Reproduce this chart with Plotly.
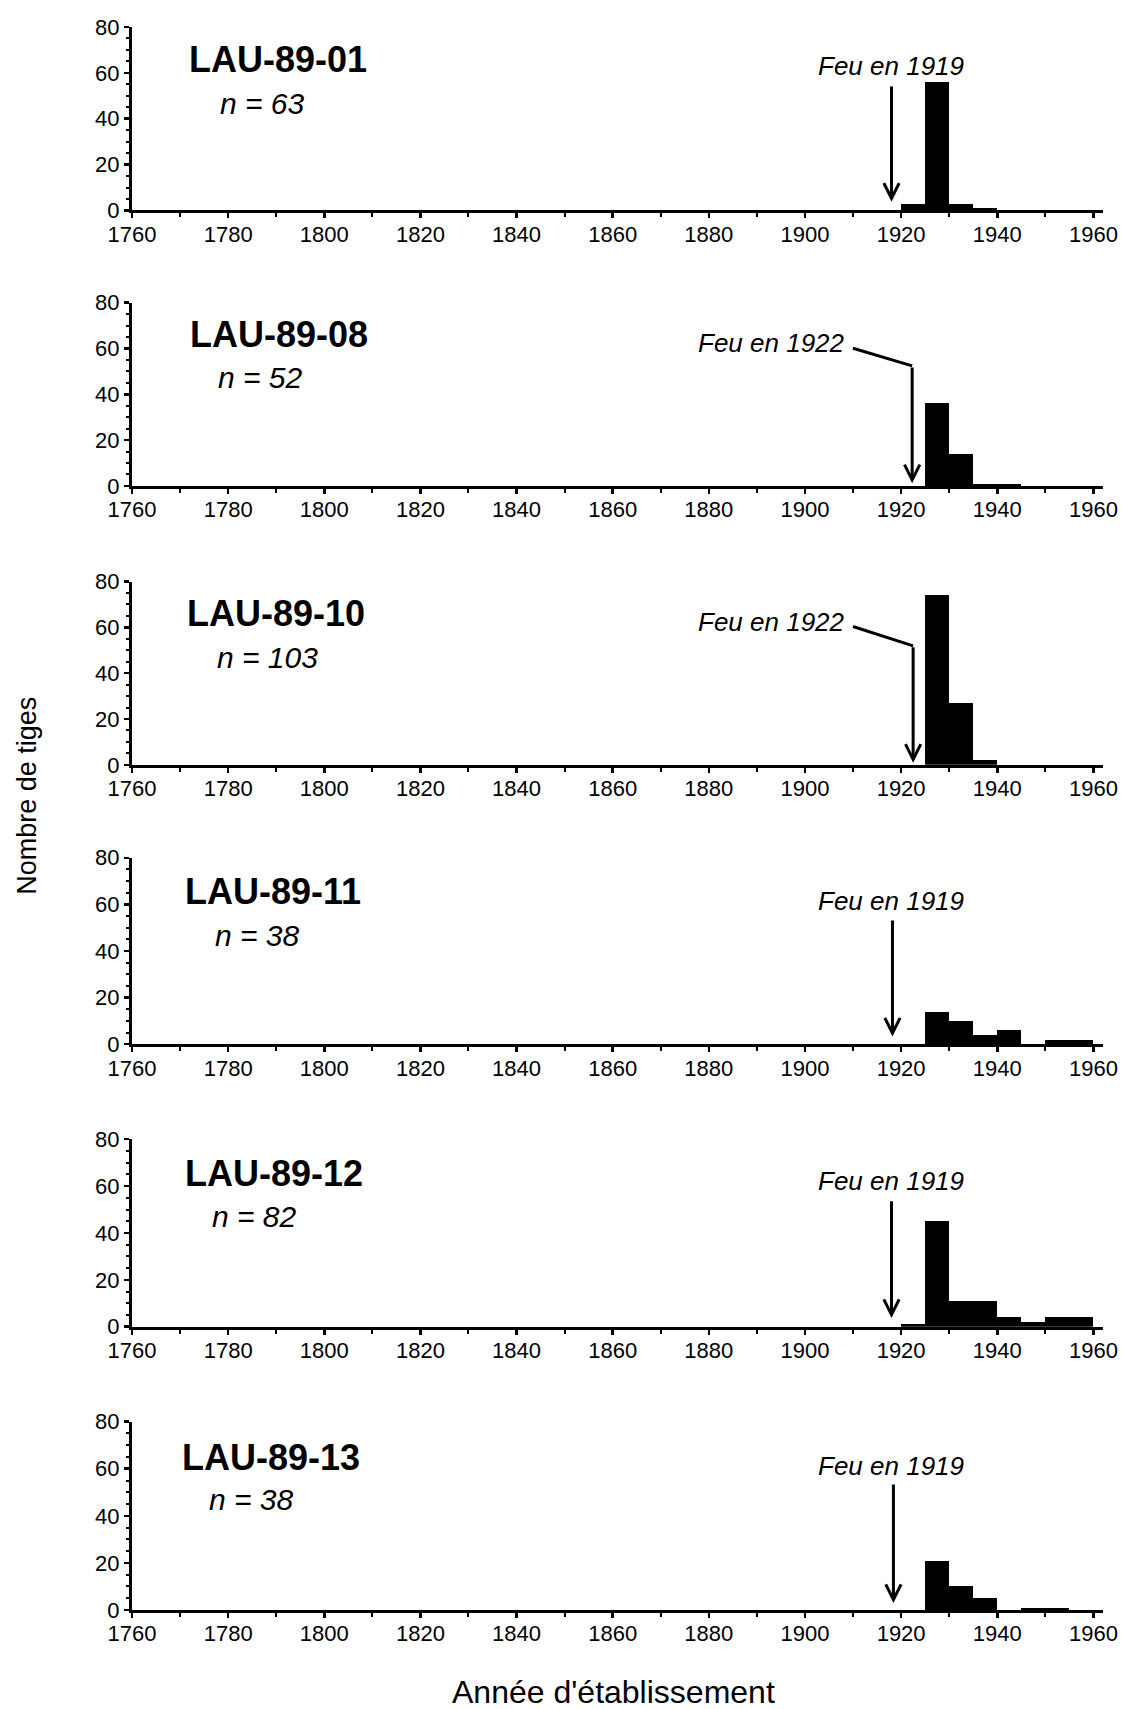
import plotly.graph_objects as go

W, H = 1123, 1709

# ---------------- data ----------------
site_names = ["LAU-89-01", "LAU-89-08", "LAU-89-10", "LAU-89-11", "LAU-89-12", "LAU-89-13"]
site_n = [63, 52, 103, 38, 82, 38]
fire_years = [1919, 1922, 1922, 1919, 1919, 1919]
bin_width = 5

bins_01 = [1920, 1925, 1930, 1935]
counts_01 = [3, 56, 3, 1]
bins_08 = [1925, 1930, 1935, 1940]
counts_08 = [36, 14, 1, 1]
bins_10 = [1925, 1930, 1935]
counts_10 = [74, 27, 2]
bins_11 = [1925, 1930, 1935, 1940, 1945, 1950, 1955]
counts_11 = [14, 10, 4, 6, 0, 2, 2]
bins_12 = [1920, 1925, 1930, 1935, 1940, 1945, 1950, 1955]
counts_12 = [1, 45, 11, 11, 4, 2, 4, 4]
bins_13 = [1925, 1930, 1935, 1940, 1945, 1950]
counts_13 = [21, 10, 5, 0, 1, 1]

all_bins = [bins_01, bins_08, bins_10, bins_11, bins_12, bins_13]
all_counts = [counts_01, counts_08, counts_10, counts_11, counts_12, counts_13]

x_ticks = list(range(1760, 1961, 20))
x_minor = list(range(1770, 1961, 20))
y_ticks = [0, 20, 40, 60, 80]

x_title = "Année d'établissement"
y_title = "Nombre de tiges"

# ---------------- layout geometry (pixels) ----------------
x_left_px, x_right_px = 132, 1103
x_range = [1760, 1962]
panel_top = [27, 302.7, 581.7, 858, 1139.5, 1422]
panel_zero = [210.5, 486, 765, 1044.5, 1327, 1610.4]
title_pos = [(187, 60), (187.5, 334.7), (185, 614), (183, 892), (183, 1174), (180, 1457.7)]
n_pos = [(218, 103.6), (216, 378), (215, 657.5), (212.6, 935.5), (210, 1217), (207, 1500)]
arrow_x = [1918.0, 1922.3, 1922.5, 1918.2, 1918.0, 1918.4]
label_y_px = [66.5, 343.3, 621.7, 901.7, 1181.7, 1466.7]
tail_y_px = [85, 366, 646, 919.3, 1200, 1483.3]
tip_y_px = [201.7, 483.3, 763.0, 1036.7, 1318.3, 1603.3]

PLOT_T = panel_top[0]
PLOT_B = panel_zero[-1]
MARGIN = dict(l=x_left_px, r=W - x_right_px, t=PLOT_T, b=H - PLOT_B)

FONT = "Liberation Sans, Arial, Helvetica, sans-serif"


def fx(p):
    return (p - x_left_px) / (x_right_px - x_left_px)


def fy(p):
    return (PLOT_B - p) / (PLOT_B - PLOT_T)


def data_to_px(xv):
    return x_left_px + (xv - x_range[0]) * (x_right_px - x_left_px) / (x_range[1] - x_range[0])


fig = go.Figure()
annotations = []
shapes = []
layout = {}

for i in range(6):
    k = "" if i == 0 else str(i + 1)
    fig.add_trace(go.Bar(
        x=all_bins[i], y=all_counts[i], width=bin_width, offset=0,
        marker=dict(color="black", line=dict(width=0)),
        xaxis="x" + k, yaxis="y" + k, showlegend=False, hoverinfo="x+y",
    ))
    layout["xaxis" + k] = dict(
        domain=[0, 1], range=x_range, anchor="y" + k, automargin=False,
        tickvals=x_ticks, ticks="outside", ticklen=5, tickwidth=2.5, tickcolor="black",
        minor=dict(tickvals=x_minor, ticks="outside", ticklen=4, tickwidth=2, tickcolor="black"),
        showline=True, linewidth=3, linecolor="black", showgrid=False, zeroline=False,
        tickfont=dict(family=FONT, size=22, color="black"), fixedrange=True,
        ticklabelstandoff=-3,
    )
    layout["yaxis" + k] = dict(
        domain=[fy(panel_zero[i]), fy(panel_top[i])], range=[0, 80], anchor="x" + k,
        automargin=False,
        tickvals=y_ticks, ticks="outside", ticklen=5, tickwidth=2.5, tickcolor="black",
        minor=dict(dtick=5, ticks="outside", ticklen=3, tickwidth=2, tickcolor="black"),
        showline=True, linewidth=3, linecolor="black", showgrid=False, zeroline=False,
        tickfont=dict(family=FONT, size=22, color="black"), fixedrange=True,
    )

    # panel title and n
    annotations.append(dict(
        text="<b>%s</b>" % site_names[i], xref="paper", yref="paper",
        x=fx(title_pos[i][0]), y=fy(title_pos[i][1]), xanchor="left", yanchor="middle",
        showarrow=False, font=dict(family=FONT, size=36, color="black"),
    ))
    annotations.append(dict(
        text="<i>n = %d</i>" % site_n[i], xref="paper", yref="paper",
        x=fx(n_pos[i][0]), y=fy(n_pos[i][1]), xanchor="left", yanchor="middle",
        showarrow=False, font=dict(family=FONT, size=30, color="black"),
    ))

    # fire arrow
    label = "<i>Feu en %d</i>" % fire_years[i]
    ax_px = data_to_px(arrow_x[i])
    annotations.append(dict(
        text="", xref="x" + k, yref="paper", x=arrow_x[i], y=fy(tip_y_px[i]),
        showarrow=True, arrowhead=5, arrowsize=1, arrowwidth=3, arrowcolor="black",
        axref="pixel", ayref="pixel", ax=0, ay=-(tip_y_px[i] - tail_y_px[i]), standoff=0,
    ))
    if fire_years[i] == 1922:
        annotations.append(dict(
            text=label, xref="paper", yref="paper", x=fx(847), y=fy(label_y_px[i]),
            xanchor="right", yanchor="middle", showarrow=False,
            font=dict(family=FONT, size=26, color="black"),
        ))
        shapes.append(dict(
            type="line", xref="paper", yref="paper",
            x0=fx(853), y0=fy(label_y_px[i] + 5), x1=fx(ax_px), y1=fy(tail_y_px[i]),
            line=dict(color="black", width=3),
        ))
    else:
        annotations.append(dict(
            text=label, xref="paper", yref="paper", x=fx(891), y=fy(label_y_px[i]),
            xanchor="center", yanchor="middle", showarrow=False,
            font=dict(family=FONT, size=26, color="black"),
        ))

annotations.append(dict(
    text=y_title, xref="paper", yref="paper", x=fx(27), y=fy(796), textangle=-90,
    xanchor="center", yanchor="middle", showarrow=False,
    font=dict(family=FONT, size=27, color="black"),
))
annotations.append(dict(
    text=x_title, xref="paper", yref="paper", x=fx(613), y=fy(1692),
    xanchor="center", yanchor="middle", showarrow=False,
    font=dict(family=FONT, size=32, color="black"),
))

fig.update_layout(
    width=W, height=H, margin=MARGIN, autosize=False,
    paper_bgcolor="white", plot_bgcolor="white", bargap=0,
    annotations=annotations, shapes=shapes, font=dict(family=FONT, color="black"),
    **layout,
)

fig.write_html(
    "out.html",
    config={"displayModeBar": False, "staticPlot": True},
    post_script="document.body.style.margin='0';document.body.style.padding='0';"
                "document.documentElement.style.overflow='hidden';",
)
